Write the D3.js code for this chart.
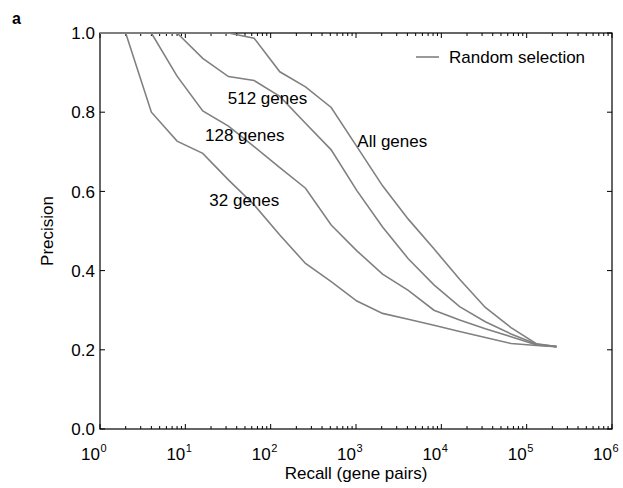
<!DOCTYPE html>
<html>
<head>
<meta charset="utf-8">
<script src="https://cdn.jsdelivr.net/npm/d3@7"></script>
<style>
  body { margin: 0; background: #fff; }
  text { font-family: "Liberation Sans", Arial, sans-serif; }
</style>
</head>
<body>
<div id="chart"></div>
<script>
// recall values (gene pairs): 2^0 .. 2^17, then all pairs
var recall = [1, 2, 4, 8, 16, 32, 64, 128, 256, 512, 1024, 2048, 4096, 8192,
              16384, 32768, 65536, 131072, 224000];

var allGenes  = [1, 1, 1, 1, 1, 1, 0.987, 0.902, 0.864, 0.812, 0.713, 0.614, 0.530, 0.455, 0.378, 0.307, 0.256, 0.215, 0.208];
var genes512  = [1, 1, 1, 1, 0.936, 0.890, 0.880, 0.840, 0.772, 0.705, 0.602, 0.510, 0.430, 0.364, 0.309, 0.271, 0.240, 0.214, 0.208];
var genes128  = [1, 1, 1, 0.891, 0.803, 0.765, 0.713, 0.660, 0.608, 0.515, 0.450, 0.391, 0.350, 0.300, 0.275, 0.253, 0.233, 0.212, 0.208];
var genes32   = [1, 1, 0.800, 0.727, 0.696, 0.629, 0.566, 0.490, 0.418, 0.372, 0.323, 0.292, 0.277, 0.262, 0.246, 0.231, 0.216, 0.211, 0.208];

var seriesNames = ["All genes", "512 genes", "128 genes", "32 genes"];
var seriesValues = [allGenes, genes512, genes128, genes32];

// curve labels: [recall, precision] anchor of text start/baseline
var labelPos = [[1036, 0.713], [31.4, 0.821], [17, 0.7265], [19.1, 0.563]];

var yTicks = [0, 0.2, 0.4, 0.6, 0.8, 1.0];
var xExponents = [0, 1, 2, 3, 4, 5, 6];

var W = 623, H = 488;
var margin = {top: 33, right: 11, bottom: 59, left: 100};

var svg = d3.select("#chart")
  .append("svg")
  .attr("width", W)
  .attr("height", H);

var x = d3.scaleLog()
  .domain([1, 1e6])
  .range([margin.left, W - margin.right]);

var y = d3.scaleLinear()
  .domain([0, 1])
  .range([H - margin.bottom, margin.top]);

var lineColor = "#808080";

// minor ticks on the log axis
var minor = [];
for (var e = 0; e < 6; e++) {
  for (var m = 2; m <= 9; m++) minor.push(m * Math.pow(10, e));
}

// bottom axis (ticks inward)
var xb = svg.append("g")
  .attr("transform", "translate(0," + y(0) + ")");
xb.selectAll(".maj").data(xExponents).enter().append("line")
  .attr("x1", function(d) { return x(Math.pow(10, d)); })
  .attr("x2", function(d) { return x(Math.pow(10, d)); })
  .attr("y1", 0).attr("y2", -5)
  .attr("stroke", "#000");
xb.selectAll(".min").data(minor).enter().append("line")
  .attr("x1", function(d) { return x(d); })
  .attr("x2", function(d) { return x(d); })
  .attr("y1", 0).attr("y2", -3)
  .attr("stroke", "#000");

// top axis
var xt = svg.append("g")
  .attr("transform", "translate(0," + y(1) + ")");
xt.selectAll(".maj").data(xExponents).enter().append("line")
  .attr("x1", function(d) { return x(Math.pow(10, d)); })
  .attr("x2", function(d) { return x(Math.pow(10, d)); })
  .attr("y1", 0).attr("y2", 5)
  .attr("stroke", "#000");
xt.selectAll(".min").data(minor).enter().append("line")
  .attr("x1", function(d) { return x(d); })
  .attr("x2", function(d) { return x(d); })
  .attr("y1", 0).attr("y2", 3)
  .attr("stroke", "#000");

// left and right y ticks
svg.selectAll(".yl").data(yTicks).enter().append("line")
  .attr("x1", x(1)).attr("x2", x(1) + 5)
  .attr("y1", function(d) { return y(d); })
  .attr("y2", function(d) { return y(d); })
  .attr("stroke", "#000");
svg.selectAll(".yr").data(yTicks).enter().append("line")
  .attr("x1", x(1e6)).attr("x2", x(1e6) - 5)
  .attr("y1", function(d) { return y(d); })
  .attr("y2", function(d) { return y(d); })
  .attr("stroke", "#000");

// y tick labels
svg.selectAll(".ylab").data(yTicks).enter().append("text")
  .attr("x", x(1) - 5)
  .attr("y", function(d) { return y(d); })
  .attr("dy", "0.36em")
  .attr("text-anchor", "end")
  .style("font-size", "17px")
  .text(function(d) { return d3.format(".1f")(d); });

// x tick labels 10^n
var xl = svg.selectAll(".xlab").data(xExponents).enter().append("g")
  .attr("transform", function(d) { return "translate(" + x(Math.pow(10, d)) + ",460)"; });
xl.append("text")
  .attr("text-anchor", "end")
  .style("font-size", "17px")
  .text("10");
xl.append("text")
  .attr("x", 0.5)
  .attr("y", -8)
  .style("font-size", "11px")
  .text(function(d) { return d; });

// frame
svg.append("rect")
  .attr("x", x(1)).attr("y", y(1))
  .attr("width", x(1e6) - x(1))
  .attr("height", y(0) - y(1))
  .attr("fill", "none")
  .attr("stroke", "#000")
  .attr("stroke-width", 1.2);

// curves
var line = d3.line()
  .x(function(d, i) { return x(recall[i]); })
  .y(function(d) { return y(d); });

svg.selectAll(".curve").data(seriesValues).enter().append("path")
  .attr("d", line)
  .attr("fill", "none")
  .attr("stroke", lineColor)
  .attr("stroke-width", 1.6);

// curve labels
svg.selectAll(".clab").data(seriesNames).enter().append("text")
  .attr("x", function(d, i) { return x(labelPos[i][0]); })
  .attr("y", function(d, i) { return y(labelPos[i][1]); })
  .style("font-size", "17px")
  .text(function(d) { return d; });

// legend
svg.append("line")
  .attr("x1", 416).attr("x2", 439)
  .attr("y1", 57).attr("y2", 57)
  .attr("stroke", lineColor)
  .attr("stroke-width", 1.6);
svg.append("text")
  .attr("x", 449).attr("y", 62.5)
  .style("font-size", "17px")
  .text("Random selection");

// axis titles
svg.append("text")
  .attr("transform", "translate(53," + ((y(0) + y(1)) / 2) + ") rotate(-90)")
  .attr("text-anchor", "middle")
  .style("font-size", "17px")
  .text("Precision");

svg.append("text")
  .attr("x", (x(1) + x(1e6)) / 2)
  .attr("y", 478.5)
  .attr("text-anchor", "middle")
  .style("font-size", "17px")
  .text("Recall (gene pairs)");

// panel letter
svg.append("text")
  .attr("x", 12).attr("y", 24)
  .style("font-size", "16px")
  .style("font-weight", "bold")
  .text("a");
</script>
</body>
</html>
